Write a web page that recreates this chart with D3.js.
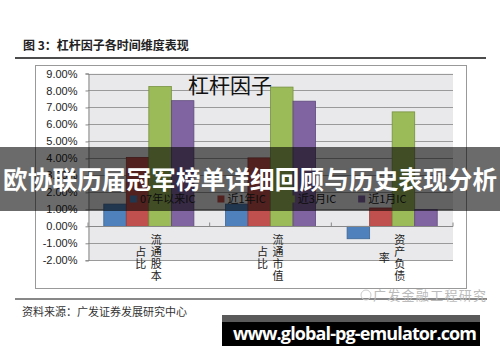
<!DOCTYPE html>
<html>
<head>
<meta charset="utf-8">
<script src="https://cdn.jsdelivr.net/npm/d3@7"></script>
<style>
  body { margin: 0; background: #fff; }
  svg { display: block; }
  .cjk { font-family: "Noto Sans CJK SC", sans-serif; }
  .num { font-family: "Liberation Sans", Arial, sans-serif; }
</style>
</head>
<body>
<svg id="chart" width="500" height="362"></svg>
<script>
// categories and their stacked (vertical) label columns
const categories = ["流通股本占比", "流通市值占比", "资产负债率"];
const categoryColumns = [["流通股本", "占比"], ["流通市值", "占比"], ["资产负债", "率"]];
const seriesNames = ["07年以来IC", "近1年IC", "近3月IC", "近1月IC"];
// values in %
const ic07 = [1.31, 1.31, -0.73];
const ic1y = [4.06, 4.03, 1.08];
const ic3m = [8.23, 8.20, 6.74];
const ic1m = [7.40, 7.37, 0.99];
const yTicks = [-2, -1, 0, 1, 2, 3, 4, 5, 6, 7, 8, 9];

const seriesValues = [ic07, ic1y, ic3m, ic1m];
const colors = ["#4f81bd", "#c0504d", "#9bbb59", "#8064a2"];
const strokes = ["#3d6797", "#933c3a", "#76913f", "#5f4a7c"];

const plotLeft = 88, plotRight = 453, plotTop = 73.5, plotBottom = 260.3;

const svg = d3.select('#chart');

// header
svg.append('text')
    .attr('class', 'cjk')
    .attr('x', 23).attr('y', 50)
    .attr('font-size', 12).attr('font-weight', 700)
    .attr('fill', '#222')
    .text('图 3：杠杆因子各时间维度表现');
svg.append('line')
    .attr('x1', 15).attr('x2', 486).attr('y1', 58).attr('y2', 58)
    .attr('stroke', '#111').attr('stroke-width', 1.5);

// chart frame
svg.append('rect')
    .attr('x', 35.5).attr('y', 65.5).attr('width', 431).attr('height', 223)
    .attr('fill', '#fff').attr('stroke', '#999');

// plot area
svg.append('rect')
    .attr('x', plotLeft).attr('y', plotTop)
    .attr('width', plotRight - plotLeft).attr('height', plotBottom - plotTop)
    .attr('fill', '#e9e9eb');

const y = d3.scaleLinear().domain([-2, 9]).range([plotBottom, plotTop]);
const x0 = d3.scaleBand().domain(categories).range([plotLeft, plotRight]).padding(0);
const x1 = d3.scaleBand().domain(seriesNames).range([0, x0.bandwidth()])
    .paddingInner(0).paddingOuter(0.7);

// gridlines
svg.append('g')
    .selectAll('line')
    .data(yTicks)
    .join('line')
    .attr('x1', plotLeft).attr('x2', plotRight)
    .attr('y1', d => Math.round(y(d)) + 0.5).attr('y2', d => Math.round(y(d)) + 0.5)
    .attr('stroke', '#9a9a9a');

// y axis
const yAxis = svg.append('g')
    .attr('transform', `translate(${plotLeft + 0.5},0)`)
    .call(d3.axisLeft(y).tickValues(yTicks).tickSize(3).tickPadding(8)
        .tickFormat(d => d.toFixed(2) + '%'));
yAxis.select('.domain').attr('stroke', '#888');
yAxis.selectAll('.tick line').attr('stroke', '#888');
yAxis.selectAll('.tick text')
    .attr('class', 'num').attr('font-size', 11).attr('fill', '#222');

// bars
const groups = svg.append('g')
    .selectAll('g')
    .data(categories)
    .join('g')
    .attr('transform', d => `translate(${x0(d)},0)`);

groups.selectAll('rect')
    .data((c, i) => seriesNames.map((s, k) => ({s, k, v: seriesValues[k][i]})))
    .join('rect')
    .attr('x', d => x1(d.s))
    .attr('y', d => y(Math.max(0, d.v)))
    .attr('width', x1.bandwidth())
    .attr('height', d => Math.abs(y(d.v) - y(0)))
    .attr('fill', d => colors[d.k])
    .attr('stroke', d => strokes[d.k])
    .attr('stroke-width', 0.8);

// x axis at zero with ticks on category boundaries
const y0 = Math.round(y(0)) + 0.5;
svg.append('line')
    .attr('x1', plotLeft).attr('x2', plotRight).attr('y1', y0).attr('y2', y0)
    .attr('stroke', '#888');
const bounds = categories.map(c => x0(c)).concat([x0(categories[categories.length - 1]) + x0.bandwidth()]);
svg.append('g')
    .selectAll('line')
    .data(bounds)
    .join('line')
    .attr('x1', d => d).attr('x2', d => d)
    .attr('y1', y0 - 4).attr('y2', y0)
    .attr('stroke', '#888');

// category labels, vertical columns right to left
const charStep = 12, labelMidY = 258.5;
categories.forEach((c, i) => {
    const cx = x0(c) + x0.bandwidth() / 2;
    const cols = categoryColumns[i];
    cols.forEach((col, j) => {
        const colX = cx + 7.5 - j * 15.5;
        const chars = Array.from(col);
        const startY = labelMidY - (chars.length - 1) * charStep / 2;
        chars.forEach((ch, k) => {
            svg.append('text')
                .attr('class', 'cjk')
                .attr('x', colX).attr('y', startY + k * charStep)
                .attr('dy', '0.36em')
                .attr('text-anchor', 'middle')
                .attr('font-size', 11)
                .attr('fill', '#222')
                .text(ch);
        });
    });
});

// chart title
svg.append('text')
    .attr('class', 'cjk')
    .attr('x', 188).attr('y', 93)
    .attr('font-size', 21)
    .attr('fill', '#111')
    .text('杠杆因子');

// legend
let lx = 130;
const legendY = 199;
seriesNames.forEach((s, k) => {
    svg.append('rect')
        .attr('x', lx).attr('y', legendY - 3.5).attr('width', 7).attr('height', 7)
        .attr('fill', colors[k]);
    const t = svg.append('text')
        .attr('class', 'cjk')
        .attr('x', lx + 10).attr('y', legendY).attr('dy', '0.35em')
        .attr('font-size', 11).attr('fill', '#222')
        .text(s);
    lx += 10 + t.node().getComputedTextLength() + 22;
});

// source line
svg.append('line')
    .attr('x1', 15).attr('x2', 487).attr('y1', 299).attr('y2', 299)
    .attr('stroke', '#111');
svg.append('text')
    .attr('class', 'cjk')
    .attr('x', 22).attr('y', 316)
    .attr('font-size', 11).attr('fill', '#333')
    .text('资料来源：广发证券发展研究中心');

// faint wechat watermark
svg.append('circle')
    .attr('cx', 366).attr('cy', 295).attr('r', 5)
    .attr('fill', 'none').attr('stroke', '#ccc');
svg.append('text')
    .attr('class', 'cjk')
    .attr('x', 373).attr('y', 300)
    .attr('font-size', 13).attr('fill', '#bbb')
    .attr('textLength', 113)
    .text('广发金融工程研究');

// banner overlay
svg.append('rect')
    .attr('x', 0).attr('y', 147).attr('width', 500).attr('height', 64)
    .attr('fill', 'rgba(0,0,0,0.58)');
svg.append('text')
    .attr('class', 'cjk')
    .attr('x', 3).attr('y', 189)
    .attr('font-size', 24.5).attr('font-weight', 700)
    .attr('fill', '#fff')
    .attr('textLength', 494)
    .text('欧协联历届冠军榜单详细回顾与历史表现分析');

// site watermark
svg.append('rect')
    .attr('x', 222).attr('y', 315).attr('width', 258).attr('height', 8)
    .attr('fill', '#5a5a5a');
svg.append('rect')
    .attr('x', 222).attr('y', 322).attr('width', 258).attr('height', 24)
    .attr('fill', '#000');
svg.append('text')
    .attr('x', 233).attr('y', 340)
    .attr('font-family', '"Open Sans", "DejaVu Sans", sans-serif')
    .attr('font-size', 18).attr('font-weight', 700)
    .attr('fill', '#fff')
    .attr('textLength', 244)
    .text('www.global-pg-emulator.com');
</script>
</body>
</html>
